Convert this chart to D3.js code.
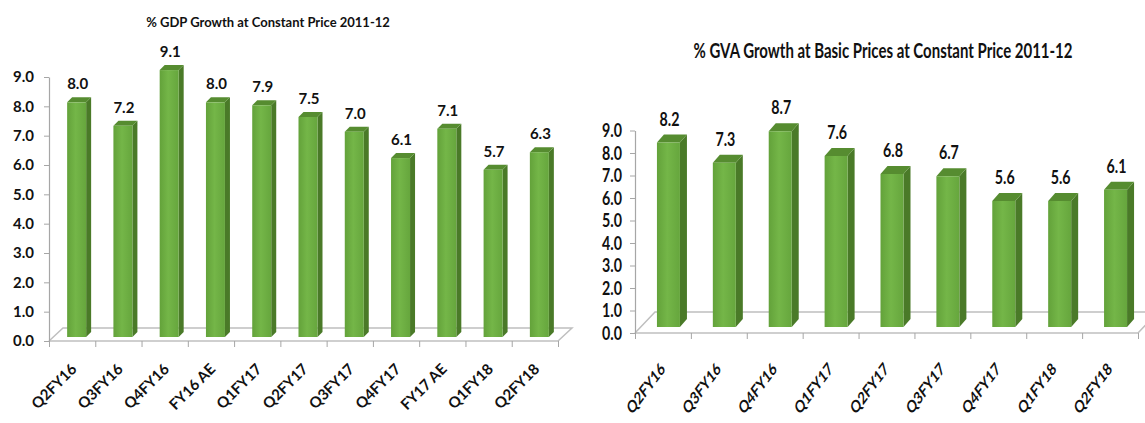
<!DOCTYPE html>
<html lang="en">
<head>
<meta charset="UTF-8">
<title>GDP and GVA growth</title>
<script src="https://d3js.org/d3.v7.min.js"></script>
<style>
  body { margin: 0; background: #fff; }
  svg text { font-family: Lato, "Open Sans", sans-serif; font-weight: bold; fill: #111; }
</style>
</head>
<body>
<div id="chart"></div>
<script>
// GDP chart data
var gdpCategories = ["Q2FY16", "Q3FY16", "Q4FY16", "FY16 AE", "Q1FY17", "Q2FY17", "Q3FY17", "Q4FY17", "FY17 AE", "Q1FY18", "Q2FY18"];
var gdpValues = [8.0, 7.2, 9.1, 8.0, 7.9, 7.5, 7.0, 6.1, 7.1, 5.7, 6.3];

// GVA chart data
var gvaCategories = ["Q2FY16", "Q3FY16", "Q4FY16", "Q1FY17", "Q2FY17", "Q3FY17", "Q4FY17", "Q1FY18", "Q2FY18"];
var gvaValues = [8.2, 7.3, 8.7, 7.6, 6.8, 6.7, 5.6, 5.6, 6.1];

var yTicks = [0, 1, 2, 3, 4, 5, 6, 7, 8, 9];

var svg = d3.select("#chart").append("svg")
    .attr("width", 1145)
    .attr("height", 423);

var defs = svg.append("defs");
var grad = defs.append("linearGradient")
    .attr("id", "barFront")
    .attr("x1", "0%").attr("x2", "100%").attr("y1", "0%").attr("y2", "0%");
grad.selectAll("stop")
    .data([
      { offset: "0%", color: "#63a23a" },
      { offset: "45%", color: "#74b648" },
      { offset: "100%", color: "#66a63d" }
    ])
    .enter().append("stop")
    .attr("offset", d => d.offset)
    .attr("stop-color", d => d.color);

// one 3D-ish column chart, sx = horizontal squeeze applied to texts
function drawChart(o) {
  var g = svg.append("g");
  var n = o.categories.length;

  var x = d3.scaleBand()
      .domain(o.categories)
      .range([o.left, o.right])
      .padding(0);

  var y = d3.scaleLinear()
      .domain([0, 9])
      .range([o.bottom, o.top]);

  function textAt(px, py, extra) {
    return "translate(" + px + "," + py + ") scale(" + o.sx + ",1)" + (extra || "");
  }

  // floor (parallelogram)
  var fl = [
    [o.left, o.bottom],
    [o.left + o.depthX, o.bottom - o.depthY],
    [o.right + o.depthX, o.bottom - o.depthY],
    [o.right, o.bottom]
  ];
  g.append("path")
      .attr("d", d3.line()(fl))
      .attr("fill", "none")
      .attr("stroke", "#bfbfbf")
      .attr("stroke-width", 1.5);
  g.append("line")
      .attr("x1", o.left).attr("x2", o.right)
      .attr("y1", o.bottom).attr("y2", o.bottom)
      .attr("stroke", "#bfbfbf")
      .attr("stroke-width", 1.5);

  // y axis
  var yAxis = g.append("g")
      .attr("transform", "translate(" + o.left + ",0)")
      .call(d3.axisLeft(y).tickValues(yTicks).tickSize(5).tickSizeOuter(0).tickFormat(""));
  yAxis.select(".domain").attr("stroke", "#a6a6a6").attr("stroke-width", 1.2);
  yAxis.selectAll(".tick line").attr("stroke", "#a6a6a6");

  g.selectAll(".ylab")
      .data(yTicks)
      .enter().append("text")
      .attr("class", "ylab")
      .attr("transform", d => textAt(o.left - o.yLabGap, y(d)))
      .attr("dy", "0.36em")
      .attr("text-anchor", "end")
      .style("font-size", o.tickFont + "px")
      .text(d => d3.format(".1f")(d));

  // x axis ticks at category boundaries
  var xb = d3.scaleLinear().domain([0, n]).range([o.left, o.right]);
  var xAxis = g.append("g")
      .attr("transform", "translate(0," + o.bottom + ")")
      .call(d3.axisBottom(xb).tickValues(d3.range(n + 1)).tickSize(6).tickSizeOuter(0).tickFormat(""));
  xAxis.select(".domain").remove();
  xAxis.selectAll(".tick line").attr("stroke", "#a6a6a6");

  // bars
  var bars = g.selectAll(".bar")
      .data(o.values)
      .enter().append("g")
      .attr("class", "bar");

  function cx(i) { return x(o.categories[i]) + x.bandwidth() / 2; }
  var base = o.bottom - o.barLift;

  bars.append("path")
      .attr("d", (d, i) => {
        var x0 = cx(i) + o.barOff + o.barW;
        var yt = base - (y(0) - y(d));
        return d3.line()([[x0, yt], [x0 + o.sideW, yt - o.topH], [x0 + o.sideW, base - o.topH], [x0, base]]) + "Z";
      })
      .attr("fill", "#4a7a28");

  bars.append("path")
      .attr("d", (d, i) => {
        var x0 = cx(i) + o.barOff;
        var yt = base - (y(0) - y(d));
        return d3.line()([[x0, yt], [x0 + o.sideW, yt - o.topH], [x0 + o.barW + o.sideW, yt - o.topH], [x0 + o.barW, yt]]) + "Z";
      })
      .attr("fill", "#568c30");

  bars.append("rect")
      .attr("x", (d, i) => cx(i) + o.barOff)
      .attr("y", d => base - (y(0) - y(d)))
      .attr("width", o.barW)
      .attr("height", d => y(0) - y(d))
      .attr("fill", "url(#barFront)");

  // value labels
  g.selectAll(".vlab")
      .data(o.values)
      .enter().append("text")
      .attr("class", "vlab")
      .attr("transform", (d, i) => textAt(cx(i) + o.barOff + o.barW / 2 + 1, base - (y(0) - y(d)) - o.topH - o.valGap))
      .attr("text-anchor", "middle")
      .style("font-size", o.valFont + "px")
      .text(d => d3.format(".1f")(d));

  // category labels, rotated
  g.selectAll(".xlab")
      .data(o.categories)
      .enter().append("text")
      .attr("class", "xlab")
      .attr("transform", (d, i) => textAt(cx(i) + o.labDx, o.bottom + o.labDy, " rotate(-45)"))
      .attr("text-anchor", "end")
      .style("font-size", o.catFont + "px")
      .text(d => d);

  // title
  g.append("text")
      .attr("transform", textAt(o.titleX, o.titleY))
      .attr("text-anchor", "middle")
      .style("font-size", o.titleFont + "px")
      .text(o.title);
}

drawChart({
  title: "% GDP Growth at Constant Price 2011-12",
  categories: gdpCategories,
  values: gdpValues,
  left: 49, right: 558, top: 77, bottom: 341,
  depthX: 14, depthY: 13,
  barW: 19, sideW: 5, topH: 5, barOff: -5, barLift: 4,
  sx: 1,
  tickFont: 15, valFont: 15, catFont: 15, titleFont: 13,
  yLabGap: 15, valGap: 8, labDx: 5.5, labDy: 29,
  titleX: 268, titleY: 27
});

drawChart({
  title: "% GVA Growth at Basic Prices at Constant Price 2011-12",
  categories: gvaCategories,
  values: gvaValues,
  left: 635, right: 1138, top: 130.5, bottom: 333,
  depthX: 20, depthY: 21,
  barW: 23, sideW: 7, topH: 8, barOff: -6, barLift: 6,
  sx: 0.75,
  tickFont: 19, valFont: 19, catFont: 17, titleFont: 20,
  yLabGap: 13, valGap: 9, labDx: 3, labDy: 37,
  titleX: 883, titleY: 58
});
</script>
</body>
</html>
